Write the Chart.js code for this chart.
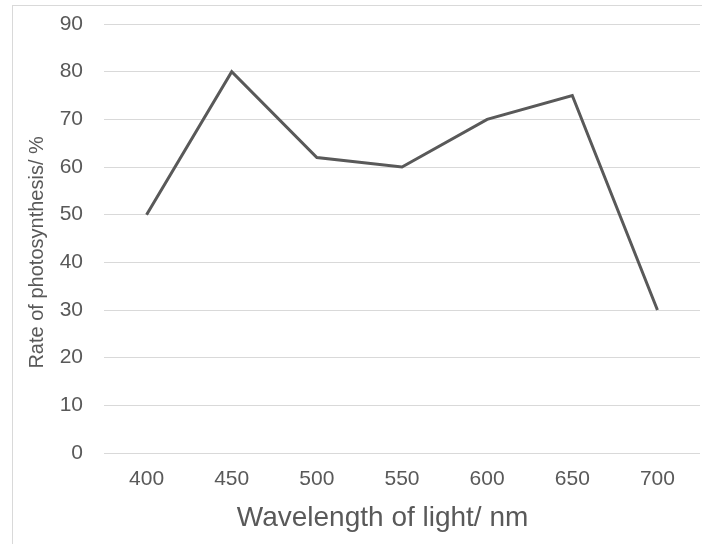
<!DOCTYPE html>
<html>
<head>
<meta charset="utf-8">
<script src="https://cdn.jsdelivr.net/npm/chart.js@4"></script>
<style>
  html, body { margin: 0; padding: 0; background: #fff; }
  #wrap { position: relative; width: 702px; height: 544px; }
  #frame { position: absolute; left: 12px; top: 5px; width: 700px; height: 600px; border: 1px solid #d9d9d9; box-sizing: border-box; }
  canvas { position: absolute; left: 0; top: 0; }
</style>
</head>
<body>
<div id="wrap">
  <div id="frame"></div>
  <canvas id="chart" width="702" height="544"></canvas>
</div>
<script>
// wavelengths (nm) and photosynthesis rate (%)
const wavelengths = ['400', '450', '500', '550', '600', '650', '700'];
const rates = [50, 80, 62, 60, 70, 75, 30];

const yMin = 0;
const yMax = 90;
const yStep = 10;

const textColor = '#595959';
const gridColor = '#d9d9d9';
const fontFamily = 'Liberation Sans, Arial, sans-serif';

// trailing spaces nudge the centred titles off the plot centre, as in the original
const xTitle = 'Wavelength of light/ nm' + '\u00a0'.repeat(5);
const yTitle = 'Rate of photosynthesis/ %' + '\u00a0'.repeat(5);

new Chart(document.getElementById('chart'), {
  type: 'line',
  data: {
    labels: wavelengths,
    datasets: [{
      label: 'Rate of photosynthesis',
      data: rates,
      borderColor: '#595959',
      borderWidth: 3,
      pointRadius: 0,
      tension: 0,
      fill: false
    }]
  },
  options: {
    responsive: false,
    animation: false,
    layout: { padding: { left: 14, right: 2, top: 24, bottom: 0 } },
    plugins: {
      legend: { display: false },
      tooltip: { enabled: false }
    },
    scales: {
      x: {
        offset: true,
        grid: { display: false, drawTicks: false },
        border: { display: false },
        ticks: {
          color: textColor,
          font: { family: fontFamily, size: 21 },
          padding: 14
        },
        title: {
          display: true,
          text: xTitle,
          color: textColor,
          font: { family: fontFamily, size: 28 },
          padding: { top: 0, bottom: 9 }
        },
        afterFit: (scale) => { scale.height = 91; }
      },
      y: {
        min: yMin,
        max: yMax,
        grid: { color: gridColor, lineWidth: 1, drawTicks: false },
        border: { display: false },
        ticks: {
          stepSize: yStep,
          color: textColor,
          font: { family: fontFamily, size: 21 },
          padding: 21
        },
        title: {
          display: true,
          text: yTitle,
          color: textColor,
          font: { family: fontFamily, size: 20 },
          padding: { top: 11, bottom: 0 }
        },
        afterFit: (scale) => {
          scale.width = 90;
          scale.paddingTop = 0;
          scale.paddingBottom = 0;
        }
      }
    }
  }
});
</script>
</body>
</html>
